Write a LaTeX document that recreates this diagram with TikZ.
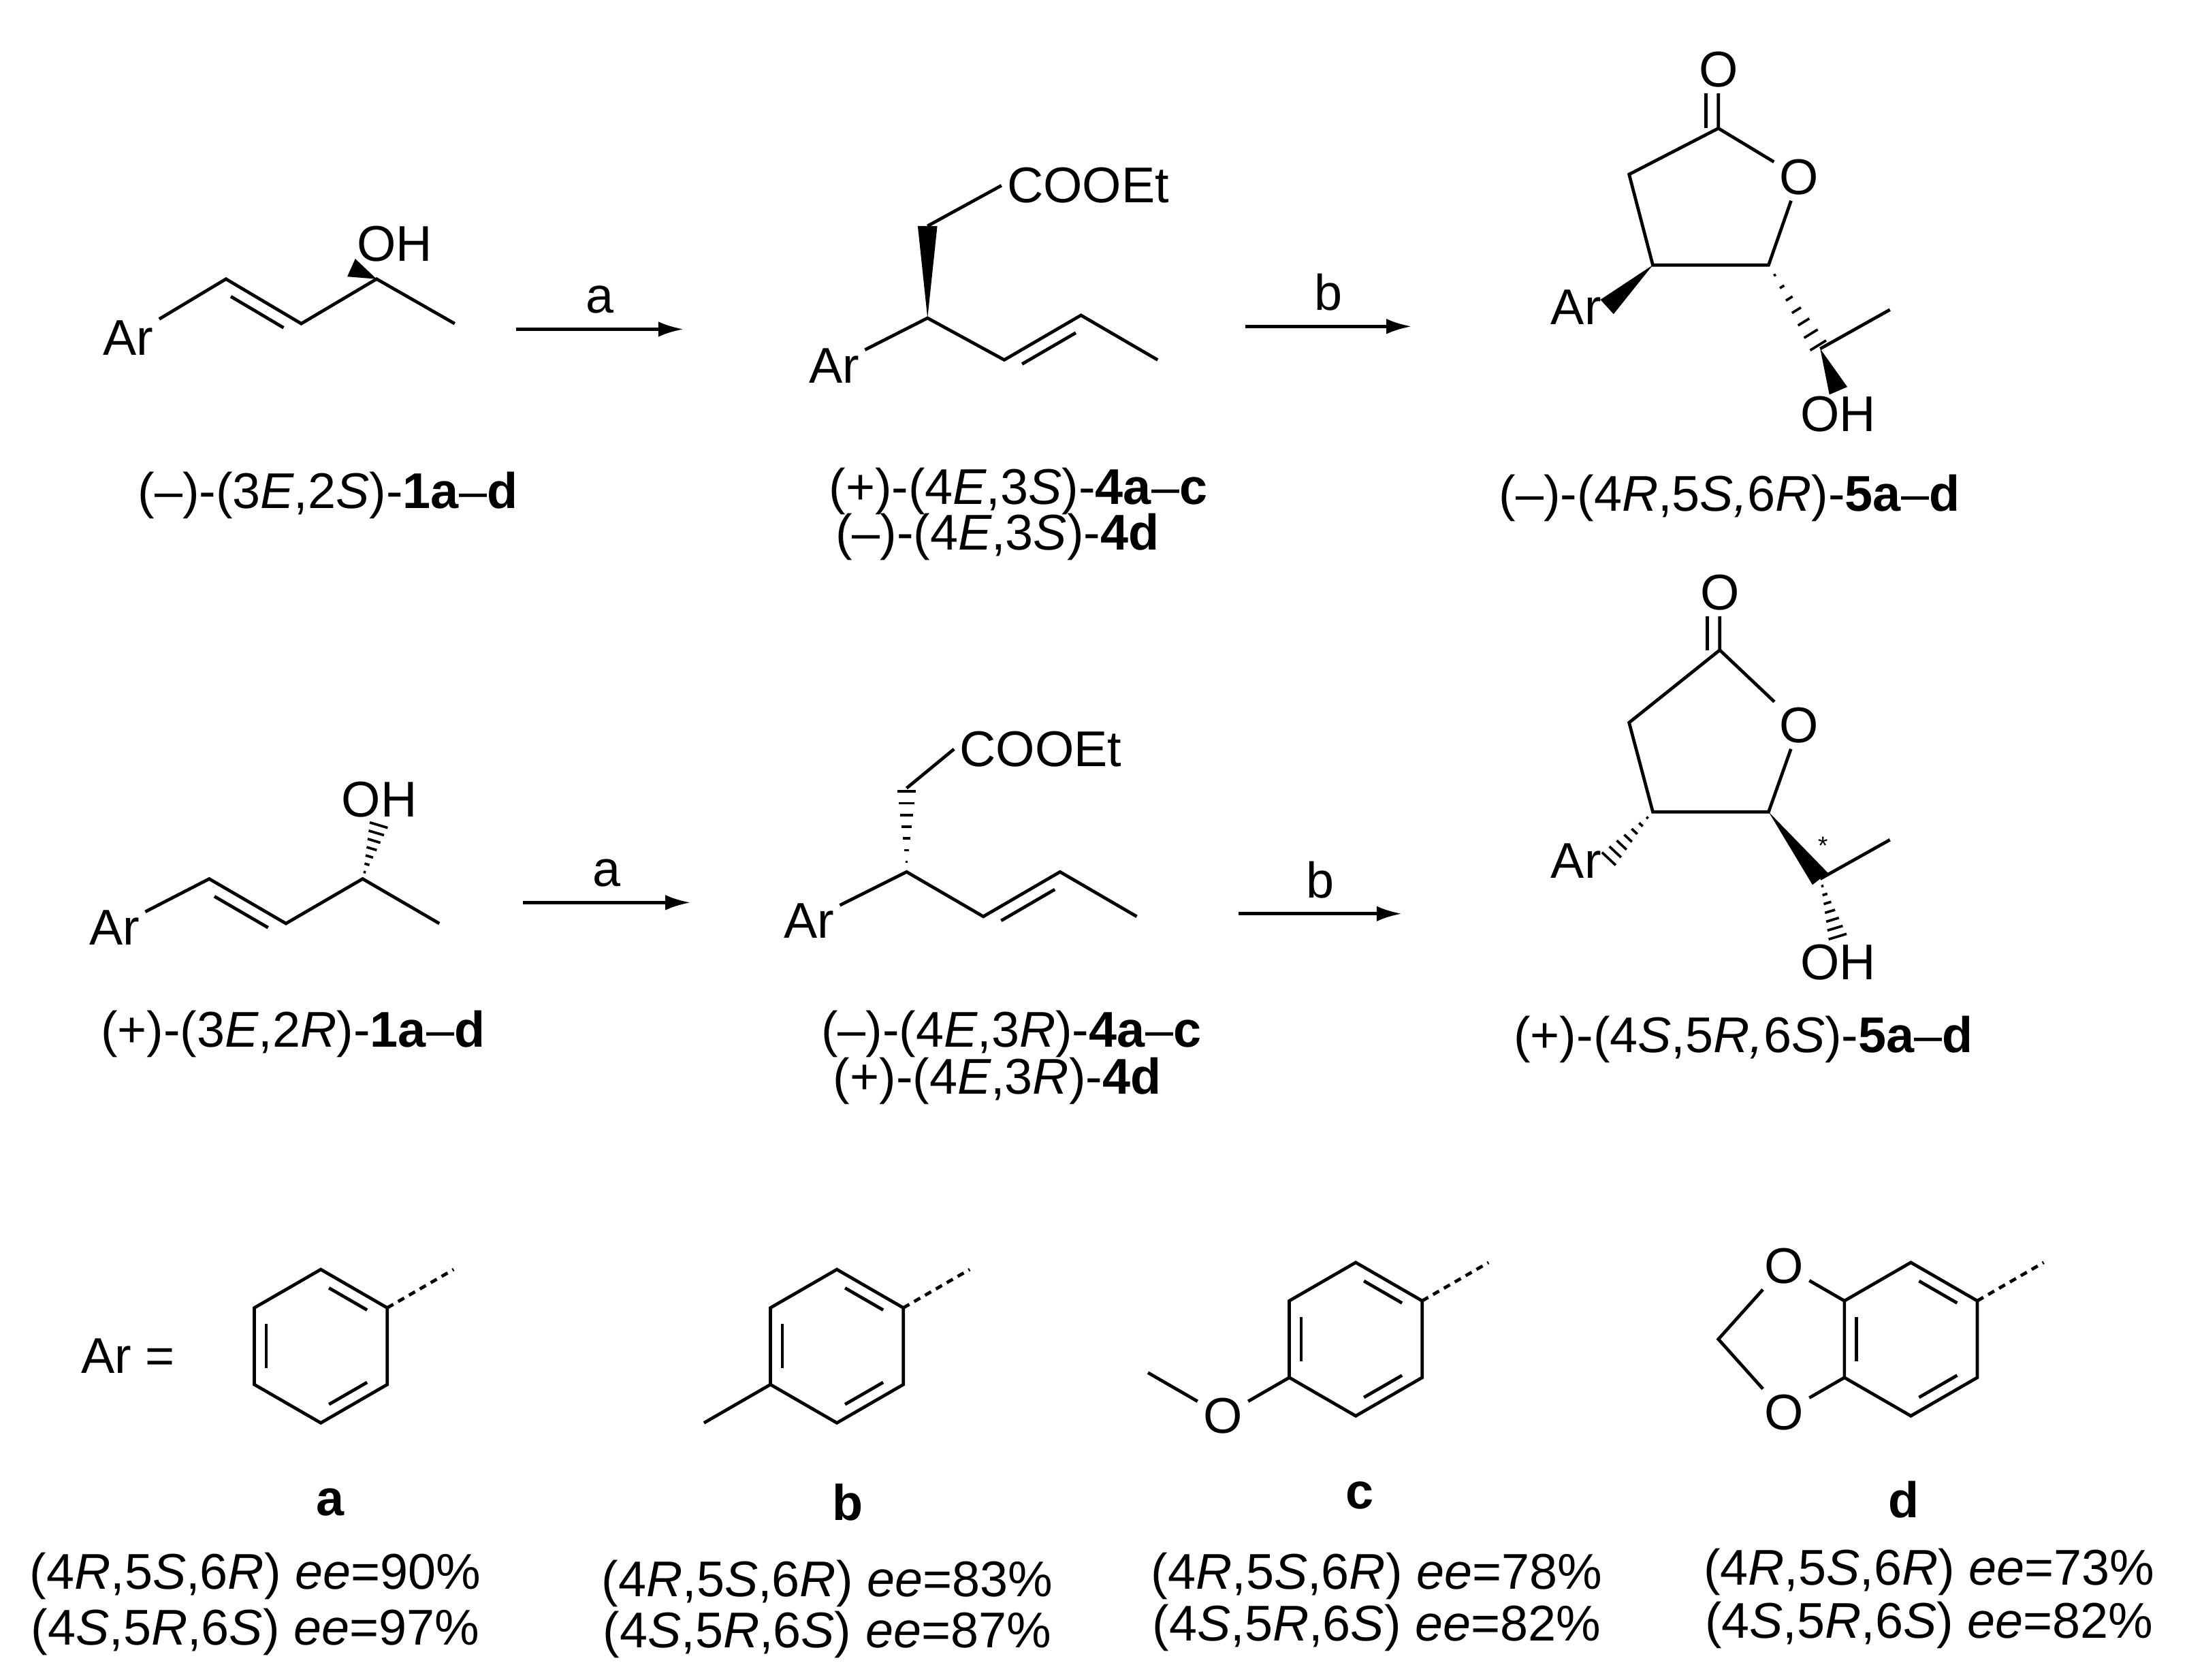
\documentclass[tikz,border=0pt]{standalone}
\usepackage{fontspec}
\setmainfont{Liberation Sans}
\usetikzlibrary{calc,arrows.meta}
\newcommand{\hb}[2]{\foreach \t in {0.12,0.26,...,1.0}{\draw[line width=1.8pt] ($(#1)!\t!(#2)!{\t*7pt}!90:(#2)$) -- ($(#1)!\t!(#2)!{\t*7pt}!-90:(#2)$);}}
\newcommand{\wb}[2]{\fill ($(#1)$) -- ($(#2)!7pt!90:(#1)$) -- ($(#2)!7pt!-90:(#1)$) -- cycle;}
\newcommand{\dbi}[3]{\draw ($(#1)!0.15!(#2)!9pt!#3:(#2)$) -- ($(#2)!0.15!(#1)!9pt!-#3:(#1)$);}
\begin{document}
\begin{tikzpicture}[x=1pt,y=-1pt,line width=2.3pt,
 every node/.style={font=\fontsize{36}{40}\selectfont},
 atm/.style={inner sep=3pt},
 lab/.style={inner sep=0pt},
 rarrow/.style={-{Latex[length=18pt,width=11pt]}}]
\useasboundingbox (0,0) rectangle (1568,1204);
% ---------- structure 1
\node[atm] (Ar1) at (92,242) {Ar};
\node[atm] (OH1) at (283,175) {OH};
\coordinate (a1) at (162,200); \coordinate (a2) at (216,232); \coordinate (a3) at (270,200); \coordinate (a4) at (326,232);
\draw (Ar1) -- (a1) -- (a2) -- (a3) -- (a4);
\dbi{a1}{a2}{-90}
\wb{a3}{OH1.south west}
\node[lab] (L1) at (235,355) {(–)-(3\textit{E},2\textit{S})-\textbf{1a}–\textbf{d}};
\draw[rarrow] (370,236) -- (490,236) node[midway,above=10pt,lab] (ta1) {a};
% ---------- structure 2
\node[atm] (Ar2) at (598,262) {Ar};
\node[atm,anchor=west] (E2) at (718,133) {COOEt};
\coordinate (b1) at (665,228); \coordinate (b2) at (720,258); \coordinate (b3) at (775,226); \coordinate (b4) at (830,258);
\coordinate (b5) at (665,162);
\draw (Ar2) -- (b1) -- (b2) -- (b3) -- (b4);
\dbi{b2}{b3}{-90}
\wb{b1}{b5}
\draw (b5) -- (E2.west);
\node[lab] (L2a) at (730,352) {(+)-(4\textit{E},3\textit{S})-\textbf{4a}–\textbf{c}};
\node[lab] (L2b) at (715,385) {(–)-(4\textit{E},3\textit{S})-\textbf{4d}};
\draw[rarrow] (893,234) -- (1012,234) node[midway,above=10pt,lab] (tb1) {b};
% ---------- structure 3
\node[atm] (O3) at (1232,50) {O};
\node[atm] (Or3) at (1290,127) {O};
\node[atm] (Ar3) at (1130,220) {Ar};
\node[atm] (OH3) at (1318,297) {OH};
\coordinate (c1) at (1232,92); \coordinate (c5) at (1268,190); \coordinate (c4) at (1185,190); \coordinate (c3) at (1168,125);
\coordinate (c6) at (1305,250); \coordinate (c7) at (1355,222);
\draw (O3) -- (c1) -- (Or3) -- (c5) -- (c4) -- (c3) -- (c1);
\draw ($(c1)!9pt!90:(O3)$) -- ($(O3.south)!9pt!-90:(c1)$);
\wb{c4}{Ar3.east}
\hb{c5}{c6}
\draw (c6) -- (c7);
\wb{c6}{OH3.north}
\node[lab] (L3) at (1240,357) {(–)-(4\textit{R},5\textit{S,}6\textit{R})-\textbf{5a}–\textbf{d}};
% ---------- structure 4
\node[atm] (Ar4) at (82,665) {Ar};
\node[atm] (OH4) at (272,573) {OH};
\coordinate (d1) at (150,630); \coordinate (d2) at (205,662); \coordinate (d3) at (260,630); \coordinate (d4) at (315,662);
\draw (Ar4) -- (d1) -- (d2) -- (d3) -- (d4);
\dbi{d1}{d2}{-90}
\hb{d3}{OH4.south}
\node[lab] (L4) at (210,741) {(+)-(3\textit{E},2\textit{R})-\textbf{1a}–\textbf{d}};
\draw[rarrow] (375,647) -- (495,647) node[midway,above=10pt,lab] (ta2) {a};
% ---------- structure 5
\node[atm] (Ar5) at (580,660) {Ar};
\node[atm,anchor=west] (E5) at (684,537) {COOEt};
\coordinate (e1) at (650,625); \coordinate (e2) at (705,657); \coordinate (e3) at (760,625); \coordinate (e4) at (815,657);
\coordinate (e5) at (650,565);
\draw (Ar5) -- (e1) -- (e2) -- (e3) -- (e4);
\dbi{e2}{e3}{-90}
\hb{e1}{e5}
\draw (e5) -- (E5.west);
\node[lab] (L5a) at (725,741) {(–)-(4\textit{E},3\textit{R})-\textbf{4a}–\textbf{c}};
\node[lab] (L5b) at (715,775) {(+)-(4\textit{E},3\textit{R})-\textbf{4d}};
\draw[rarrow] (888,655) -- (1005,655) node[midway,above=10pt,lab] (tb2) {b};
% ---------- structure 6
\node[atm] (O6) at (1233,425) {O};
\node[atm] (Or6) at (1290,520) {O};
\node[atm] (Ar6) at (1130,617) {Ar};
\node[atm] (OH6) at (1318,690) {OH};
\coordinate (f1) at (1233,466); \coordinate (f5) at (1268,582); \coordinate (f4) at (1185,582); \coordinate (f3) at (1168,518);
\coordinate (f6) at (1305,630); \coordinate (f7) at (1355,602);
\draw (O6) -- (f1) -- (Or6) -- (f5) -- (f4) -- (f3) -- (f1);
\draw ($(f1)!9pt!90:(O6)$) -- ($(O6.south)!9pt!-90:(f1)$);
\hb{f4}{Ar6.east}
\wb{f5}{f6}
\draw (f6) -- (f7);
\hb{f6}{OH6.north}
\node[lab,font=\fontsize{18}{20}\selectfont] (st6) at (1307,606) {*};
\node[lab] (L6) at (1250,745) {(+)-(4\textit{S},5\textit{R,}6\textit{S})-\textbf{5a}–\textbf{d}};
% ---------- Ar row
\node[lab] (ArEq) at (92,972) {Ar =};
\foreach \n/\cx/\cy in {a/230/965, b/600/965, c/972/960, d/1370/960}{
  \foreach \k/\ang in {1/-90,2/-30,3/30,4/90,5/150,6/-150}{
    \coordinate (\n\k) at ($(\cx,\cy)+(\ang:55)$);}
  \draw (\n1)--(\n2)--(\n3)--(\n4)--(\n5)--(\n6)--cycle;
  \coordinate (\n c) at (\cx,\cy);
  \draw ($(\n1)!0.15!(\n2)!0.18!(\n c)$) -- ($(\n2)!0.15!(\n1)!0.18!(\n c)$);
  \draw ($(\n3)!0.15!(\n4)!0.18!(\n c)$) -- ($(\n4)!0.15!(\n3)!0.18!(\n c)$);
  \draw ($(\n5)!0.15!(\n6)!0.18!(\n c)$) -- ($(\n6)!0.15!(\n5)!0.18!(\n c)$);
  \draw[dash pattern=on 5pt off 4pt] (\n2) -- ++(-30:55);
}
% b methyl
\draw (b5) -- ++(150:55);
% c methoxy
\node[atm] (Oc) at ($(c5)+(150:55)$) {O};
\draw (c5) -- (Oc) -- ++(-150:62);
% d dioxole
\node[atm] (Od1) at ($(d6)+(-150:50)$) {O};
\node[atm] (Od2) at ($(d5)+(150:50)$) {O};
\coordinate (dm) at (1232,960);
\draw (d6) -- (Od1) -- (dm) -- (Od2) -- (d5);
% labels
\node[lab] (la) at (237,1077) {\textbf{a}};
\node[lab] (la1) at (183,1130) {(4\textit{R},5\textit{S},6\textit{R}) \textit{ee}=90\%};
\node[lab] (la2) at (183,1170) {(4\textit{S},5\textit{R},6\textit{S}) \textit{ee}=97\%};
\node[lab] (lb) at (608,1077) {\textbf{b}};
\node[lab] (lb1) at (593,1135) {(4\textit{R},5\textit{S},6\textit{R}) \textit{ee}=83\%};
\node[lab] (lb2) at (593,1172) {(4\textit{S},5\textit{R},6\textit{S}) \textit{ee}=87\%};
\node[lab] (lc) at (975,1072) {\textbf{c}};
\node[lab] (lc1) at (987,1130) {(4\textit{R},5\textit{S},6\textit{R}) \textit{ee}=78\%};
\node[lab] (lc2) at (987,1167) {(4\textit{S},5\textit{R},6\textit{S}) \textit{ee}=82\%};
\node[lab] (ld) at (1365,1075) {\textbf{d}};
\node[lab] (ld1) at (1383,1127) {(4\textit{R},5\textit{S},6\textit{R}) \textit{ee}=73\%};
\node[lab] (ld2) at (1383,1165) {(4\textit{S},5\textit{R},6\textit{S}) \textit{ee}=82\%};
\end{tikzpicture}
\end{document}
